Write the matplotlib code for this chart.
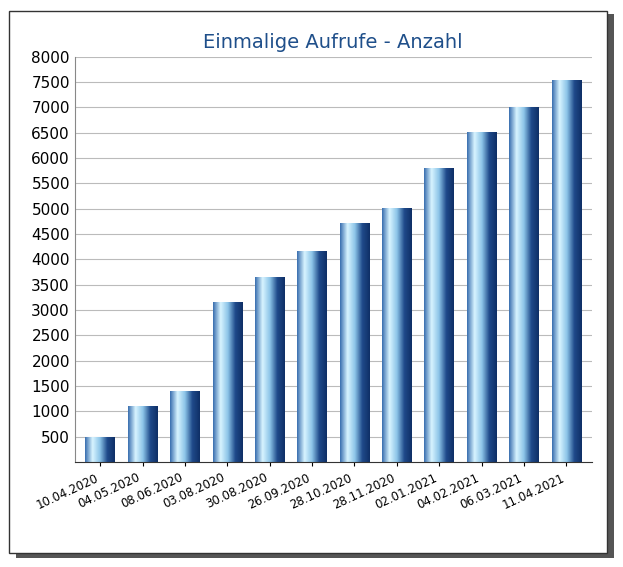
import matplotlib.pyplot as plt
import numpy as np
from matplotlib.colors import LinearSegmentedColormap
from matplotlib.patches import Rectangle

dates = ["10.04.2020", "04.05.2020", "08.06.2020", "03.08.2020", "30.08.2020", "26.09.2020",
         "28.10.2020", "28.11.2020", "02.01.2021", "04.02.2021", "06.03.2021", "11.04.2021"]
aufrufe = [490, 1100, 1400, 3150, 3650, 4150, 4700, 5000, 5800, 6500, 7000, 7530]

fig = plt.figure(figsize=(6.23, 5.67), dpi=100)

# frame with shadow, drawn in a background axes
bg = fig.add_axes([0, 0, 1, 1], zorder=-1)
bg.set_xlim(0, 1)
bg.set_ylim(0, 1)
bg.axis("off")
bg.add_patch(Rectangle((0.025, 0.015), 0.96, 0.96, facecolor="#555555", edgecolor="none"))
bg.add_patch(Rectangle((0.015, 0.025), 0.96, 0.955, facecolor="white", edgecolor="#333333", lw=1))

ax = fig.add_axes([0.12, 0.185, 0.83, 0.715])
ax.set_facecolor("none")
cmap = LinearSegmentedColormap.from_list("bar", ["#3a6fb0", "#d8f4ff", "#8cc4e8", "#1f4a8a", "#0f2f66"])
grad = np.linspace(0, 1, 100).reshape(1, -1)
x = np.arange(len(dates))
w = 0.7
for xi, v in zip(x, aufrufe):
    ax.imshow(grad, cmap=cmap, aspect="auto", extent=(xi - w / 2, xi + w / 2, 0, v), zorder=2)
ax.set_xlim(-0.6, len(dates) - 0.4)
ax.set_ylim(0, 8000)
ax.set_yticks(range(500, 8001, 500))
ax.yaxis.grid(True, color="#bbbbbb", lw=0.8, zorder=0)
ax.set_axisbelow(True)
ax.set_xticks(x)
ax.set_xticklabels(dates, rotation=25, ha="right", fontsize=8.5)
ax.tick_params(axis="y", labelsize=11, length=0)
ax.tick_params(axis="x", length=3)
for s in ["top", "right"]:
    ax.spines[s].set_visible(False)
ax.spines["left"].set_color("#888888")
ax.spines["bottom"].set_color("#333333")
ax.set_title("Einmalige Aufrufe - Anzahl", color="#1f4f8a", fontsize=14, pad=6)
fig.savefig("out.png")
